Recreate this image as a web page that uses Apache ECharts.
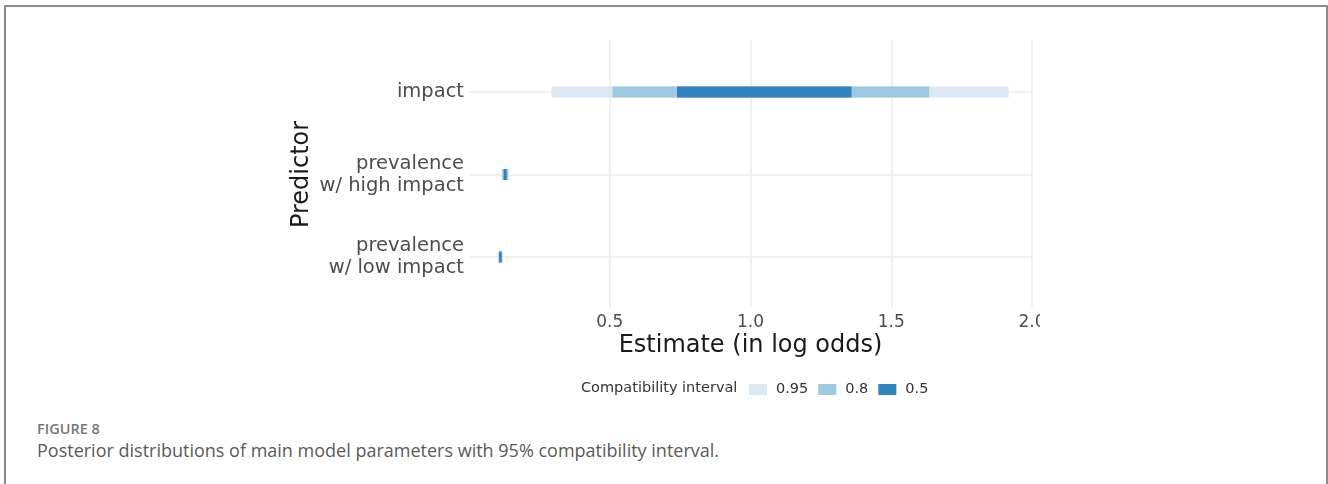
<!DOCTYPE html>
<html>
<head>
<meta charset="utf-8">
<script src="https://cdn.jsdelivr.net/npm/echarts@6/dist/echarts.min.js"></script>
<style>
  html, body { margin: 0; padding: 0; background: #fff; width: 1328px; height: 484px; overflow: hidden; }
  #frame { position: absolute; left: 4px; top: 5px; width: 1320px; height: 500px; border: 2px solid #8c8c8c; border-bottom: none; }
  #chart { position: absolute; left: 0; top: 0; width: 1040px; height: 400px; }
  .cap1 { position: absolute; left: 37px; top: 419px; font-family: 'Open Sans', sans-serif; font-size: 14.5px; font-weight: 600; color: #777; }
  .cap2 { position: absolute; left: 37px; top: 438px; font-family: 'Open Sans', sans-serif; font-size: 18px; color: #5a5a5a; }
</style>
</head>
<body>
<div id="frame"></div>
<div id="chart"></div>
<div class="cap1">FIGURE 8</div>
<div class="cap2">Posterior distributions of main model parameters with 95% compatibility interval.</div>
<script>
// Data
const categories = ['impact', 'prevalence\nw/ high impact', 'prevalence\nw/ low impact'];
const levels = ['0.95', '0.8', '0.5'];
const lower95 = [0.293, 0.115, 0.103];
const upper95 = [1.917, 0.143, 0.120];
const lower80 = [0.510, 0.119, 0.105];
const upper80 = [1.635, 0.139, 0.118];
const lower50 = [0.739, 0.123, 0.107];
const upper50 = [1.359, 0.134, 0.116];
const xTicks = [0.5, 1.0, 1.5, 2.0];

const colors = ['#dce9f5', '#9ecae1', '#3182bd'];
const FONT = "'DejaVu Sans', sans-serif";

function rows(lo, hi) {
  return categories.map((c, i) => [i, lo[i], hi[i]]);
}

function renderInterval(params, api) {
  const cat = api.value(0);
  const p1 = api.coord([api.value(1), cat]);
  const p2 = api.coord([api.value(2), cat]);
  const h = 11;
  return {
    type: 'rect',
    shape: { x: p1[0], y: p1[1] - h / 2, width: Math.max(p2[0] - p1[0], 1), height: h },
    style: { fill: api.visual('color') }
  };
}

const chart = echarts.init(document.getElementById('chart'), null, { renderer: 'canvas' });

const seriesData = [rows(lower95, upper95), rows(lower80, upper80), rows(lower50, upper50)];

const option = {
  animation: false,
  textStyle: { fontFamily: FONT },
  grid: [
    { left: 469, right: 8, top: 40, height: 267, outerBoundsMode: 'none', containLabel: false },
    { left: 469, right: 8, top: 92, height: 165, outerBoundsMode: 'none', containLabel: false }
  ],
  xAxis: [
    {
      gridIndex: 0, type: 'value', min: 0, max: 2.0, interval: 0.5,
      axisLine: { show: false }, axisTick: { show: false },
      axisLabel: { showMinLabel: false, margin: 7, fontSize: 17, color: '#4d4d4d', fontFamily: FONT,
        formatter: v => xTicks.indexOf(v) >= 0 ? v.toFixed(1) : '' },
      splitLine: { show: true, showMinLine: false, lineStyle: { color: '#ebebeb', width: 1.5 } },
      name: 'Estimate (in log odds)', nameLocation: 'middle', nameGap: 27, nameMoveOverlap: false,
      nameTextStyle: { fontSize: 24, color: '#1a1a1a', fontFamily: FONT }
    },
    {
      gridIndex: 1, type: 'value', min: 0, max: 2.0, interval: 0.5, show: false
    }
  ],
  yAxis: [
    { gridIndex: 0, type: 'value', min: 0, max: 1, show: false },
    {
      gridIndex: 1, type: 'category', data: categories, inverse: true, boundaryGap: false,
      axisLine: { show: false }, axisTick: { show: false },
      axisLabel: { margin: 5, fontSize: 19.5, color: '#4d4d4d', lineHeight: 22, fontFamily: FONT, align: 'right' },
      splitLine: { show: true, lineStyle: { color: '#ebebeb', width: 1.5 } },
      name: 'Predictor', nameLocation: 'middle', nameRotate: 90, nameGap: 155, nameMoveOverlap: false,
      nameTextStyle: { fontSize: 24, color: '#1a1a1a', fontFamily: FONT }
    }
  ],
  legend: {
    left: 744, top: 377, itemWidth: 18, itemHeight: 11, itemGap: 10, icon: 'rect',
    data: levels,
    textStyle: { fontSize: 14.5, color: '#333', fontFamily: FONT, padding: [0, 0, 0, 4] }
  },
  graphic: [
    { type: 'text', left: 581, top: 381, style: { text: 'Compatibility interval', fontSize: 14.5, fill: '#333', fontFamily: FONT } }
  ],
  series: levels.map((lv, k) => ({
    name: lv, type: 'custom', xAxisIndex: 1, yAxisIndex: 1,
    renderItem: renderInterval,
    itemStyle: { color: colors[k] },
    encode: { x: [1, 2], y: 0 },
    data: seriesData[k],
    z: 2 + k
  }))
};

chart.setOption(option);
</script>
</body>
</html>
